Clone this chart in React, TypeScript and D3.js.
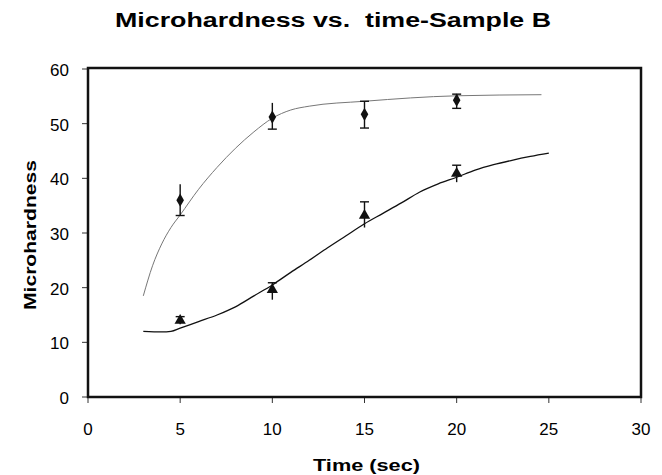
import React from "react";
import { scaleLinear, line, curveMonotoneX, symbol, symbolDiamond, symbolTriangle } from "d3";

// measured points (time, mean, lower, upper)
const times = [5, 10, 15, 20];
const diamondMean = [36, 51.2, 51.7, 54.3];
const diamondLow = [33.2, 49, 49.2, 52.8];
const diamondHigh = [38.9, 53.8, 54.1, 55.4];
const triMean = [14, 19.6, 33.2, 40.9];
const triLow = [13.3, 17.8, 31, 39.3];
const triHigh = [14.7, 20.9, 35.7, 42.4];

// fitted curves
const upperT = [3, 3.5, 4, 4.5, 5, 6, 7, 8, 9, 10, 11, 12, 15, 20, 24.6];
const upperY = [18.5, 24, 28, 31, 33.3, 38, 42, 45.5, 48.5, 51, 52.5, 53.2, 54.1, 55.1, 55.3];
const lowerT = [3, 4, 4.5, 5, 6, 7, 8, 9, 10, 11, 12, 13, 14, 15, 16, 17, 18, 19, 20, 21, 22, 23, 24, 25];
const lowerY = [12, 11.9, 12, 12.6, 13.8, 15, 16.5, 18.5, 20.5, 22.8, 25, 27.3, 29.5, 31.7, 33.6, 35.5, 37.5, 39, 40.2, 41.5, 42.5, 43.3, 44, 44.6];

const xTicks = [0, 5, 10, 15, 20, 25, 30];
const yTicks = [0, 10, 20, 30, 40, 50, 60];

const W = 662;
const H = 475;
const left = 88, right = 641, top = 68, bottom = 397;

export default function App() {
  const x = scaleLinear().domain([0, 30]).range([left, right]);
  const y = scaleLinear().domain([0, 60]).range([bottom, top + 1]);

  const curve = line<[number, number]>()
    .x((d) => x(d[0]))
    .y((d) => y(d[1]))
    .curve(curveMonotoneX);
  const upperPath = curve(upperT.map((t, i) => [t, upperY[i]]));
  const lowerPath = curve(lowerT.map((t, i) => [t, lowerY[i]]));

  const diamond = symbol().type(symbolDiamond).size(50)();
  const tri = symbol().type(symbolTriangle).size(55)();
  const font = "Liberation Sans, Arial, sans-serif";

  // caps that show in the scan (others are hidden behind marks / lines)
  const errBar = (t: number, lo: number, hi: number, capLo: boolean, capHi: boolean, key: string) => (
    <g key={key} stroke="#111" strokeWidth={1.4}>
      <line x1={x(t)} x2={x(t)} y1={y(lo)} y2={y(hi)} />
      {capLo && <line x1={x(t) - 4.5} x2={x(t) + 4.5} y1={y(lo)} y2={y(lo)} />}
      {capHi && <line x1={x(t) - 4.5} x2={x(t) + 4.5} y1={y(hi)} y2={y(hi)} />}
    </g>
  );

  return (
    <svg width={W} height={H} style={{ position: "absolute", left: 0, top: 0, background: "#fff" }} fontFamily={font}>
      <text x={115} y={27} fontSize={20} fontWeight="bold" textLength={436} lengthAdjust="spacingAndGlyphs" style={{ whiteSpace: "pre" }}>
        Microhardness vs.  time-Sample B
      </text>

      {yTicks.map((v) => (
        <g key={"y" + v}>
          <line x1={left - 6} x2={left} y1={y(v)} y2={y(v)} stroke="#333" />
          <text x={69} y={y(v) + 7} textAnchor="end" fontSize={17}>{v}</text>
        </g>
      ))}
      {xTicks.map((v) => (
        <g key={"x" + v}>
          <line x1={x(v)} x2={x(v)} y1={bottom} y2={bottom + 6} stroke="#333" />
          <text x={x(v)} y={435} textAnchor="middle" fontSize={17}>{v}</text>
        </g>
      ))}

      <text x={313} y={471} fontSize={17} fontWeight="bold" textLength={107} lengthAdjust="spacingAndGlyphs">Time (sec)</text>
      <text transform="translate(36, 310) rotate(-90)" fontSize={17} fontWeight="bold" textLength={150} lengthAdjust="spacingAndGlyphs">
        Microhardness
      </text>

      <path d={upperPath || ""} fill="none" stroke="#777" strokeWidth={1} />
      <path d={lowerPath || ""} fill="none" stroke="#111" strokeWidth={1.3} />

      {times.map((t, i) => errBar(t, diamondLow[i], diamondHigh[i], true, i >= 2, "de" + i))}
      {times.map((t, i) => errBar(t, triLow[i], triHigh[i], false, true, "te" + i))}
      {times.map((t, i) => (
        <path key={"d" + i} d={diamond || ""} transform={`translate(${x(t)}, ${y(diamondMean[i])})`} fill="#111" />
      ))}
      {times.map((t, i) => (
        <path key={"t" + i} d={tri || ""} transform={`translate(${x(t)}, ${y(triMean[i])})`} fill="#111" />
      ))}

      <rect x={left} y={top} width={right - left} height={bottom - top} fill="none" stroke="#111" strokeWidth={2.5} />
    </svg>
  );
}
